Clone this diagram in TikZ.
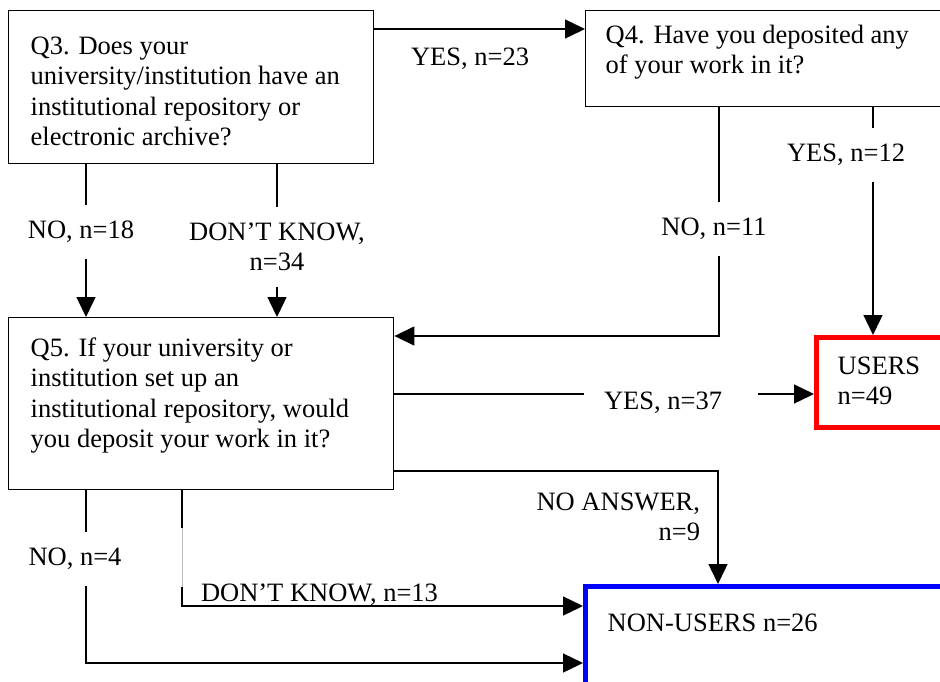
\documentclass[tikz,border=0pt]{standalone}
\usepackage{fontspec}
\setmainfont{Liberation Serif}
\usetikzlibrary{arrows.meta}

\begin{document}
\begin{tikzpicture}[x=1pt,y=-1pt,line width=1.4pt,
  every node/.style={font=\fontsize{26.5}{30.5}\selectfont,inner sep=0pt},
  qbox/.style={draw,line width=1.4pt,anchor=north west},
  qtext/.style={anchor=north west,align=left},
  ans/.style={outer xsep=20pt,outer ysep=16pt,align=center},
  arr/.style={-{Triangle[length=20pt,width=19pt]}}]

\useasboundingbox (0,0) rectangle (940,681);
\clip (0,0) rectangle (940,681);

% Question boxes and the two outcomes.
\node[qbox,minimum width=365pt,minimum height=153pt] (q3) at (8,10) {};
\node[qtext] (q3t) at (30,36) {Q3. Does your\\university/institution have an\\institutional repository or\\electronic archive?};
\node[qbox,minimum width=420pt,minimum height=96pt] (q4) at (585,10) {};
\node[qtext] (q4t) at (605,24) {Q4. Have you deposited any\\of your work in it?};
\node[qbox,minimum width=385pt,minimum height=172pt] (q5) at (8,317) {};
\node[qtext] (q5t) at (30,337) {Q5. If your university or\\institution set up an\\institutional repository, would\\you deposit your work in it?};
\node[qbox,draw=red,line width=5pt,minimum width=200pt,minimum height=90pt] (users) at (814,335) {};
\node[qtext] (userst) at (837,356) {USERS\\n=49};
\node[qbox,draw=blue,line width=5pt,minimum width=420pt,minimum height=150pt] (nonusers) at (583,584) {};
\node[qtext] (nonuserst) at (607,613) {NON-USERS n=26};

% Q3 answers.
\node[ans] (yes23) at (470,59) {YES, n=23};
\draw[arr] ([yshift=-19pt]q3.north east) -- ([yshift=-19pt]q4.north west);
\node[ans] (no18) at (81,232) {NO, n=18};
\coordinate (c18) at (86,232);
\draw (q3.south -| c18) -- (c18 |- no18.north);
\draw[arr] (c18 |- no18.south) -- (c18 |- q5.north);
\node[ans] (dk34) at (277,247) {DON'T KNOW,\\n=34};
\draw (q3.south -| dk34) -- (dk34.north);
\draw[arr] (dk34.south) -- (dk34.south |- q5.north);

% Q4 answers.
\node[ans] (no11) at (714,229) {NO, n=11};
\coordinate (c11) at (719,229);
\draw (q4.south -| c11) -- (c11 |- no11.north);
\draw[arr] (c11 |- no11.south) |- ([yshift=-19pt]q5.north east);
\node[ans] (yes12) at (846,155) {YES, n=12};
\coordinate (c12) at (873,155);
\draw (q4.south -| c12) -- (c12 |- yes12.north);
\draw[arr] (c12 |- yes12.south) -- (c12 |- users.north);

% Q5 answers.
\node[ans] (yes37) at (663,403) {YES, n=37};
\coordinate (c37) at (663,394);
\coordinate (r37) at (758,394);
\draw (q5.east |- c37) -- (c37 -| yes37.west);
\draw[arr] (r37) -- (r37 -| users.west);

\node[ans,outer sep=0pt,align=right,anchor=east] (noans) at (700,517) {NO ANSWER,\\n=9};
\coordinate (c9) at (718,471);
\draw[arr] (q5.east |- c9) -- (c9) -- (c9 |- nonusers.north);

\node[ans,outer sep=0pt,anchor=base west] (dk13) at (201,601) {DON'T KNOW, n=13};
\coordinate (c13a) at (182,528);
\coordinate (c13b) at (182,587);
\coordinate (c13) at (182,606);
\draw (q5.south -| c13) -- (c13a);
\draw[gray!50,line width=0.5pt] (c13a) -- (c13b);
\draw[arr] (c13b) -- (c13) -- (c13 -| nonusers.west);

\node[ans] (no4) at (75,559) {NO, n=4};
\coordinate (c4) at (86,663);
\draw (q5.south -| c4) -- (c4 |- no4.north);
\draw[arr] (c4 |- no4.south) -- (c4) -- (c4 -| nonusers.west);

\end{tikzpicture}
\end{document}
